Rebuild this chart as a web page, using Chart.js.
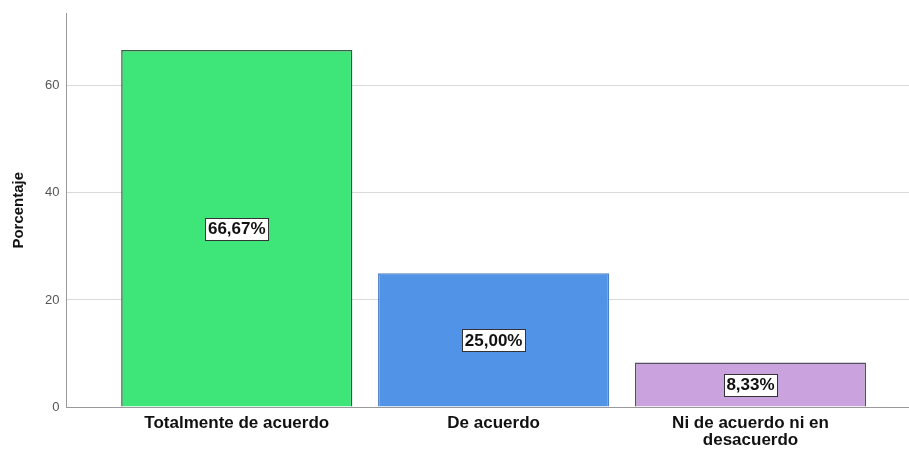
<!DOCTYPE html>
<html><head><meta charset="utf-8">
<script src="https://cdn.jsdelivr.net/npm/chart.js@4/dist/chart.umd.min.js"></script>
<style>html,body{margin:0;padding:0;background:#fff}#wrap{width:909px;height:451px}</style>
</head><body><div id="wrap"><canvas id="c" width="909" height="451"></canvas></div>
<script>
const categories = [["Totalmente de acuerdo"], ["De acuerdo"], ["Ni de acuerdo ni en", "desacuerdo"]];
const values = [66.67, 25.00, 8.33];
const valueLabels = ["66,67%", "25,00%", "8,33%"];
const yTicks = [0, 20, 40, 60];
const barColors = ["#3ee67a", "#5193e6", "#c9a2de"];
const borderColors = ["#2f5f3c", "#4a80c8", "#555060"];

const labelPlugin = {
  id: 'valLabels',
  afterDatasetsDraw(chart) {
    const ctx = chart.ctx;
    const meta = chart.getDatasetMeta(0);
    const yScale = chart.scales.y;
    ctx.save();
    ctx.font = 'bold 17px "Liberation Sans", Arial, sans-serif';
    ctx.textAlign = 'center';
    ctx.textBaseline = 'middle';
    meta.data.forEach((bar, i) => {
      const yMid = (bar.y + yScale.getPixelForValue(0)) / 2;
      const t = valueLabels[i];
      const w = ctx.measureText(t).width + 5;
      const h = 22;
      const x0 = Math.round(bar.x - w/2) + 0.5, y0 = Math.round(yMid - h/2) + 0.5;
      ctx.fillStyle = '#ffffff';
      ctx.fillRect(x0, y0, Math.round(w), h);
      ctx.strokeStyle = '#333';
      ctx.lineWidth = 1;
      ctx.strokeRect(x0, y0, Math.round(w), h);
      ctx.fillStyle = '#111';
      ctx.fillText(t, bar.x, yMid + 1);
    });
    ctx.restore();
  }
};

new Chart(document.getElementById('c'), {
  type: 'bar',
  data: {
    datasets: [{
      data: values.map((v, i) => ({x: i, y: v})),
      backgroundColor: barColors,
      borderColor: borderColors,
      borderWidth: 1.5,
      categoryPercentage: 0.9,
      barPercentage: 1.0
    }]
  },
  options: {
    responsive: false,
    animation: false,
    layout: { padding: { top: 4, right: 0, bottom: -6, left: 10 } },
    plugins: { legend: { display: false }, tooltip: { enabled: false } },
    scales: {
      x: {
        type: 'linear',
        offset: false,
        min: -0.663,
        max: 2.617,
        afterBuildTicks(scale) { scale.ticks = categories.map((c, i) => ({value: i})); },
        ticks: {
          autoSkip: false,
          maxRotation: 0,
          padding: 8,
          color: '#111',
          font: { family: '"Liberation Sans", Arial, sans-serif', size: 17, weight: 'bold', lineHeight: 1.0 },
          callback: (v) => categories[v]
        },
        grid: { display: false, drawTicks: false },
        border: { display: true, color: '#999', width: 1 }
      },
      y: {
        min: 0,
        max: 73.5,
        afterBuildTicks(scale) { scale.ticks = yTicks.map(v => ({value: v})); },
        ticks: {
          color: '#555',
          padding: 7,
          font: { family: '"Liberation Sans", Arial, sans-serif', size: 13, lineHeight: 1.0 }
        },
        grid: { color: '#d9d9d9', drawTicks: false },
        border: { display: true, color: '#999', width: 1 },
        title: {
          display: true,
          text: 'Porcentaje',
          color: '#111',
          padding: { top: 0, bottom: 10 },
          font: { family: '"Liberation Sans", Arial, sans-serif', size: 15, weight: 'bold' }
        }
      }
    }
  },
  plugins: [labelPlugin]
});
</script>
</body></html>
